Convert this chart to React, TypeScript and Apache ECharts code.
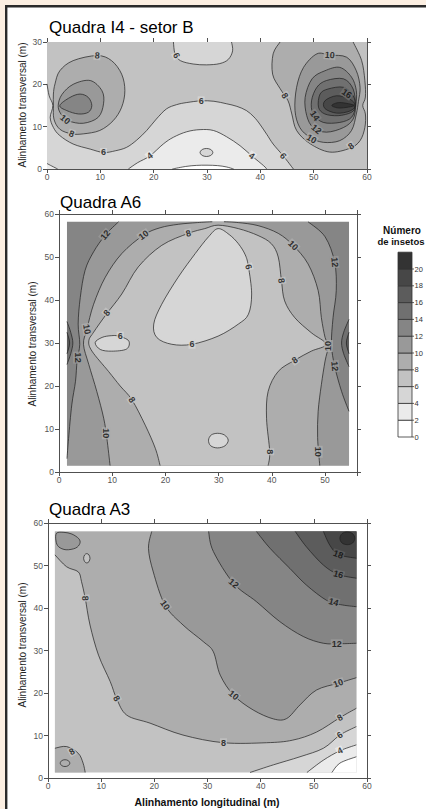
import React, { useEffect, useRef } from "react";
import * as echarts from "echarts";

const FONT = "'Liberation Sans', Arial, Helvetica, sans-serif";

// ---- legend levels and gray bands ----
const LEVELS = [0, 2, 4, 6, 8, 10, 12, 14, 16, 18, 20];
const BAND_COLORS = ["#ffffff", "#ebebeb", "#d6d6d6", "#c2c2c2", "#adadad", "#999999", "#858585", "#707070", "#5c5c5c", "#474747", "#333333"];

const TITLES = ["Quadra I4 - setor B", "Quadra A6", "Quadra A3"];
const Y_TITLE = "Alinhamento transversal (m)";
const X_TITLE = "Alinhamento longitudinal (m)";
const LEGEND_TITLE = ["Número", "de insetos"];

// ---- axis ranges ----
const I4_X = [0, 60];
const I4_Y = [0, 30];
const A6_X = [0, 56];
const A6_Y = [0, 60];
const A3_X = [0, 60];
const A3_Y = [0, 60];

// ================= Quadra I4 - setor B (contours, data units) =================
const I4_EXTENT = [[0, 0], [60, 0], [60, 30], [0, 30]];
const I4_C6_LOW = [[0, 20.1], [0.4, 17.3], [1.1, 15], [0.6, 12.2], [1.2, 9.8], [2.4, 7.9], [4.9, 5.9], [8.1, 4.7], [10.6, 3.9], [12.8, 4.3], [14.9, 5.1], [16.8, 6.8], [18.7, 9.1], [20.5, 11.8], [22.4, 14.2], [24.3, 15.2], [26.2, 15.7], [28.9, 16.1], [31.3, 16], [33.7, 15.4], [35.6, 14.8], [37.4, 13.8], [38.8, 12.3], [39.9, 10.6], [41.2, 8.2], [42.4, 5.9], [44.3, 3.1], [46.2, 0]];
const I4_C6_TOP = [[23.7, 30], [24, 27.2], [25, 25.6], [27.4, 24.8], [29.9, 24.6], [32.4, 24.9], [34, 25.9], [34.8, 27.9], [34.6, 30]];
const I4_C4 = [[15.25, 0], [17, 1.5], [19.3, 3.1], [21.8, 5.9], [23.7, 7.5], [26.2, 8.8], [28.7, 9.3], [31.2, 9.1], [33.7, 7.6], [36.2, 5.5], [38.4, 3.1], [40.6, 0.8], [41.2, 0]];
const I4_C4_CORNER = [[0, 1.3], [0.9, 0.7], [2, 0]];
const I4_C2 = [[23.5, 0], [26, 0.6], [28, 0.85], [30, 0.9], [32, 0.8], [33.6, 0.5], [35, 0]];
const I4_E4 = [[28.7, 3.9], [29.1, 4.6], [29.9, 4.85], [30.7, 4.6], [31.1, 3.9], [30.7, 3.2], [29.9, 2.95], [29.1, 3.2]];
const I4_L8 = [[1.5, 20.1], [2.4, 23.2], [4.9, 25.6], [9.4, 26.8], [12.1, 25.6], [14, 22.4], [14.6, 18.5], [14, 14.6], [12.4, 11.4], [9.9, 9.1], [6.8, 8.3], [4.6, 8.3], [2.4, 9.4], [1.3, 11.8], [1.2, 15], [1.2, 17.7]];
const I4_L10 = [[2.1, 15], [2.8, 17.6], [4.9, 20], [8.1, 20.9], [10.3, 18.5], [10.6, 15.4], [9.6, 12.2], [6.8, 10.8], [4, 11.4], [2.6, 13]];
const I4_L12 = [[2.4, 15], [4.3, 16.9], [6.2, 17.7], [7.75, 16.9], [8.4, 15], [7.75, 13.4], [5.9, 13], [3.7, 13.8]];
const I4_R8 = [[43.7, 30], [42.4, 27.2], [42.3, 22.4], [43.7, 19], [45.2, 16.1], [45.9, 13], [46.8, 9.1], [49.3, 6], [53, 4], [56.8, 4.9], [58.7, 6.7], [59.6, 9.8], [59.7, 13], [59.2, 15], [59.7, 17], [59.6, 20.9], [59, 25.6], [57.4, 30]];
const I4_R10 = [[50.6, 27.2], [53, 26.9], [56.2, 26.4], [58, 23.2], [58.7, 19.3], [58.4, 16], [58, 13], [57.1, 9.1], [54.9, 6.7], [51.8, 6.3], [49.3, 7.5], [47.4, 9.8], [46.5, 13.8], [46.8, 19.3], [48.1, 24]];
const I4_R12 = [[52.1, 23.2], [54.9, 24], [57.1, 21.7], [58, 18.5], [57.9, 15], [57.4, 11.8], [55.6, 9.8], [52.4, 8.7], [49.9, 9.8], [48.7, 12.6], [48.4, 16.9], [49.7, 21.3]];
const I4_R14 = [[52.4, 20.9], [55.6, 21.3], [57.4, 18.9], [57.8, 15], [57.1, 12.2], [54.9, 11], [51.8, 11], [49.9, 13], [49.6, 16.1], [50.6, 19.3]];
const I4_R16 = [[52.7, 18.9], [55.6, 19.3], [57.4, 17.3], [57.8, 15], [57.1, 13.4], [54.6, 12.6], [52.1, 13], [50.9, 14.6], [51.2, 17.7]];
const I4_R18 = [[52.1, 16.1], [54.3, 17.3], [56.8, 16.5], [57.8, 15], [56.8, 13.7], [54.3, 13.2], [52.1, 14.3]];
const I4_R20 = [[53.4, 15], [54.9, 15.7], [57.6, 15], [54.9, 14.4]];
const I4_LABELS = [
  [9.4, 26.8, "8", -5], [3.4, 11.7, "10", -40], [4.6, 8.3, "8", -20], [10.6, 3.9, "6", 0],
  [19.3, 3.1, "4", 35], [28.9, 16.1, "6", 0], [24.3, 26.8, "6", -65], [38.4, 3.1, "4", -35],
  [44.3, 3.1, "6", -50], [44.6, 17.3, "8", -60], [53, 26.9, "10", -5], [56.2, 17.8, "16", -35],
  [50.2, 12.6, "14", -55], [50.5, 9.4, "12", -40], [49.6, 7.1, "10", -30], [57, 5.4, "8", 35],
];

// ================= Quadra A6 =================
const A6_EXTENT = [[1.5, 1.5], [54.5, 1.5], [54.5, 58.2], [1.5, 58.2]];
const A6_L12 = [[11.2, 58.2], [8.7, 55.1], [6.5, 51.2], [4.9, 46.9], [4, 40.6], [3.6, 34.4], [3.9, 29.7], [3.4, 25.8], [3.1, 21.1], [2.4, 15.6], [1.8, 7.8], [1.5, 3.1]];
const A6_R12 = [[46.8, 58.2], [50, 54.7], [51.8, 48.8], [52.1, 42.2], [51.5, 35.9], [51.2, 29.7], [51.8, 24.6], [53.1, 18.75], [54.5, 14.1]];
const A6_L10 = [[9.6, 1.5], [9, 7.8], [8.4, 12.5], [7.1, 18.75], [5.6, 25], [4.6, 29.7], [5.25, 33.2], [6.5, 39], [8.7, 45.3], [11.8, 50.8], [15.9, 55.1], [19, 56.8], [22.4, 57.6], [26, 58], [28.8, 58.2]];
const A6_R10 = [[31, 58.2], [33.7, 58], [37.4, 57.3], [41.2, 55.5], [44, 52.7], [46.8, 48.4], [48.7, 42.2], [49.3, 35.9], [50, 31.3], [50.6, 29.3], [50, 25.8], [49.3, 20.3], [48.7, 14.1], [48.6, 8], [49, 1.5]];
const A6_L8 = [[19, 1.5], [18.1, 5.5], [16.2, 10.9], [13.7, 16.8], [11.5, 20], [9.3, 23.4], [6.2, 28.1], [5.6, 30.5], [6.5, 32.5], [8.9, 36.7], [11.8, 41.4], [14.9, 47.7], [19.3, 52.7], [24.3, 55.5], [27.4, 56.6], [29.9, 57.4], [33.7, 56.6], [37.4, 55], [39.9, 53.1], [41.2, 50], [41.8, 44.5], [42.4, 39.8], [44.3, 35.9], [47.4, 32.4], [50.2, 29.7], [47.4, 28.1], [44.3, 26], [41.2, 23.4], [39.3, 18.75], [39, 12.5], [39.6, 4.7], [39.3, 1.5]];
const A6_E6_BIG = [[29.9, 56.6], [32, 55.2], [33.7, 53.1], [35, 50.5], [35.6, 47.7], [36.2, 41.4], [35.6, 36.7], [33.7, 34.4], [29.9, 31.6], [25, 29.7], [21.2, 29.7], [18.4, 31.25], [17.8, 34.4], [19.3, 39], [22.4, 45.3], [25.6, 50.8], [28.1, 54.7]];
const A6_E6_LEFT = [[6.8, 30.1], [8.1, 31.3], [9.8, 31.7], [11.2, 31.6], [13.1, 30.5], [12.7, 28.6], [9.9, 28.1], [7.75, 28.5]];
const A6_E6_BOT = [[28.1, 7.4], [28.6, 8.6], [29.8, 9], [31.1, 8.6], [31.8, 7.4], [31.2, 6.1], [29.8, 5.6], [28.5, 6.1]];
const A6_LB14 = [[1.5, 35], [2.2, 32.5], [2.6, 30], [2.2, 27.5], [1.5, 25]];
const A6_LB16 = [[1.5, 32.5], [2, 30], [1.5, 27.5]];
const A6_RB14 = [[54.5, 35.5], [53.5, 32.5], [53.1, 30], [53.5, 27.5], [54.5, 24.5]];
const A6_RB16 = [[54.5, 32.5], [54, 30], [54.5, 27.5]];
const A6_LABELS = [
  [8.7, 55.1, "12", 50], [15.9, 55.1, "10", 35], [24.3, 55.5, "8", 15], [35.6, 47.7, "6", -75],
  [44, 52.7, "10", -45], [41.8, 44.5, "8", -80], [51.8, 48.8, "12", -85], [9, 37, "8", 50],
  [5.25, 33.2, "10", -80], [3.5, 26.6, "12", -90], [11.5, 31.6, "6", 0], [25, 29.7, "6", 0],
  [50.6, 29.3, "10", 90], [51.8, 24.6, "12", -85], [44.3, 26, "8", 35], [13.7, 16.8, "8", -55],
  [8.9, 9, "10", -90], [39.6, 4.7, "8", -90], [48.7, 4.7, "10", -90],
];

// ================= Quadra A3 =================
const A3_EXTENT = [[1.3, 1.3], [58, 1.3], [58, 58], [1.3, 58]];
const A3_C8 = [[1.3, 52.5], [3.5, 49.7], [5.7, 48.5], [6.3, 46.2], [7, 42.3], [7.9, 36], [9.5, 28.9], [11.7, 22.7], [12.9, 18.7], [14.8, 14.8], [19.2, 12.9], [25.4, 10.1], [33, 8.3], [41.1, 8.3], [46, 8.9], [50.5, 10.8], [54.9, 14.2], [58, 16.4]];
const A3_C10 = [[19.5, 58], [18.9, 54], [19.8, 48.5], [22, 40.7], [25.4, 36], [29.2, 32.1], [31.1, 29.7], [32.4, 24.2], [34.9, 19.5], [38.6, 16], [42.4, 13.9], [44.9, 14], [47.4, 17.2], [50.5, 20.7], [54.6, 22.3], [58, 23.6]];
const A3_C12 = [[30.2, 58], [31.1, 53.3], [34.9, 45.8], [39.2, 41.5], [43.6, 36.8], [48, 33.3], [51.8, 31.7], [55, 31.6], [58, 31.7]];
const A3_C14 = [[39.2, 58], [41.8, 54], [45.5, 49.3], [48.6, 45.4], [52.4, 41.8], [55, 40.8], [58, 40.3]];
const A3_C16 = [[46.5, 58], [48.6, 54.4], [51.8, 50.1], [54.6, 47.9], [58, 47]];
const A3_C18 = [[51.8, 58], [53, 54.8], [54.6, 52.6], [58, 51.7]];
const A3_E20 = [[54.9, 56.4], [55.3, 57.5], [56.3, 57.9], [57.3, 57.5], [57.7, 56.4], [57.3, 55.3], [56.3, 54.9], [55.3, 55.3]];
const A3_TL = [[1.6, 57.6], [3, 57.8], [4.5, 57.4], [5.8, 56.3], [6, 55.2], [5.2, 54.1], [3.4, 53.7], [2, 54.4], [1.5, 55.8]];
const A3_TL_ELL = [[6.7, 51.7], [6.9, 52.5], [7.3, 52.8], [7.7, 52.5], [7.9, 51.7], [7.7, 50.9], [7.3, 50.6], [6.9, 50.9]];
const A3_BL = [[1.3, 7], [3.5, 7.4], [5.7, 5.8], [6.6, 3.5], [7, 1.3]];
const A3_BL_CIRC = [[2.3, 3.5], [2.6, 4.1], [3.2, 4.3], [3.8, 4.1], [4.1, 3.5], [3.8, 2.9], [3.2, 2.7], [2.6, 2.9]];
const A3_C6 = [[38, 1.3], [42.4, 3.1], [47.4, 5], [51.8, 7], [54.9, 10.1], [58, 12.1]];
const A3_C4 = [[48.7, 1.3], [51.8, 4.2], [54.9, 6.4], [58, 7.8]];
const A3_C2 = [[53.4, 1.3], [54.9, 3.5], [58, 5]];
const A3_LABELS = [
  [7, 42.3, "8", -85], [22, 40.7, "10", -55], [34.9, 45.8, "12", -40], [54.6, 52.6, "18", -20],
  [54.6, 47.9, "16", -15], [53.7, 41.4, "14", -15], [54.3, 31.6, "12", 0], [54.6, 22.3, "10", 20],
  [34.9, 19.5, "10", -40], [12.9, 18.7, "8", -60], [33, 8.3, "8", 0], [54.9, 14.2, "8", 30],
  [54.9, 10.1, "6", 35], [54.9, 6.4, "4", 25], [4.5, 6.2, "8", 30],
];

type Part = { s?: number[][]; l?: number[][] };
type Fill = { parts?: Part[]; loop?: number[][]; band: number };

const rev = (a: number[][]) => [...a].reverse();

const I4_FILLS: Fill[] = [
  { parts: [{ l: I4_EXTENT }], band: 3 },
  { parts: [{ s: I4_C6_LOW }, { l: [[0, 0]] }], band: 2 },
  { parts: [{ s: I4_C6_TOP }], band: 2 },
  { parts: [{ s: I4_C4 }], band: 1 },
  { parts: [{ s: I4_C4_CORNER }, { l: [[0, 0]] }], band: 1 },
  { parts: [{ s: I4_C2 }], band: 0 },
  { loop: I4_E4, band: 2 },
  { loop: I4_L8, band: 4 },
  { loop: I4_L10, band: 5 },
  { loop: I4_L12, band: 6 },
  { parts: [{ s: I4_R8 }], band: 4 },
  { loop: I4_R10, band: 5 },
  { loop: I4_R12, band: 6 },
  { loop: I4_R14, band: 7 },
  { loop: I4_R16, band: 8 },
  { loop: I4_R18, band: 9 },
  { loop: I4_R20, band: 10 },
];

const A6_FILLS: Fill[] = [
  { parts: [{ l: A6_EXTENT }], band: 6 },
  { parts: [{ s: A6_L12 }, { l: [[1.5, 1.5], [54.5, 1.5]] }, { s: rev(A6_R12) }], band: 5 },
  { parts: [{ s: A6_LB14 }], band: 7 },
  { parts: [{ s: A6_LB16 }], band: 8 },
  { parts: [{ s: A6_RB14 }], band: 7 },
  { parts: [{ s: A6_RB16 }], band: 8 },
  { parts: [{ s: A6_L10 }, { s: A6_R10 }], band: 4 },
  { parts: [{ s: A6_L8 }], band: 3 },
  { loop: A6_E6_BIG, band: 2 },
  { loop: A6_E6_LEFT, band: 2 },
  { loop: A6_E6_BOT, band: 2 },
];

const A3_FILLS: Fill[] = [
  { parts: [{ l: A3_EXTENT }], band: 3 },
  { parts: [{ s: A3_C8 }, { l: [[58, 58], [1.3, 58]] }], band: 4 },
  { parts: [{ s: A3_C10 }, { l: [[58, 58]] }], band: 5 },
  { parts: [{ s: A3_C12 }, { l: [[58, 58]] }], band: 6 },
  { parts: [{ s: A3_C14 }, { l: [[58, 58]] }], band: 7 },
  { parts: [{ s: A3_C16 }, { l: [[58, 58]] }], band: 8 },
  { parts: [{ s: A3_C18 }, { l: [[58, 58]] }], band: 9 },
  { loop: A3_E20, band: 10 },
  { loop: A3_TL, band: 5 },
  { loop: A3_TL_ELL, band: 3 },
  { parts: [{ s: A3_BL }, { l: [[1.3, 1.3]] }], band: 4 },
  { loop: A3_BL_CIRC, band: 4 },
  { parts: [{ s: A3_C6 }, { l: [[58, 1.3]] }], band: 2 },
  { parts: [{ s: A3_C4 }, { l: [[58, 1.3]] }], band: 1 },
  { parts: [{ s: A3_C2 }, { l: [[58, 1.3]] }], band: 0 },
];

// layout (pixels)
const GRIDS = [
  { left: 47, top: 42, width: 320, height: 127 },
  { left: 59, top: 214, width: 298, height: 258 },
  { left: 48, top: 523, width: 319, height: 255 },
];

const fmt = (p: number[]) => `${p[0].toFixed(2)} ${p[1].toFixed(2)}`;

function crSeg(p: number[][], closed: boolean) {
  const n = p.length;
  const segs = closed ? n : n - 1;
  let d = "";
  for (let i = 0; i < segs; i++) {
    const p1 = p[i];
    const p2 = p[(i + 1) % n];
    const p0 = closed ? p[(i - 1 + n) % n] : p[Math.max(i - 1, 0)];
    const p3 = closed ? p[(i + 2) % n] : p[Math.min(i + 2, n - 1)];
    const c1 = [p1[0] + (p2[0] - p0[0]) / 6, p1[1] + (p2[1] - p0[1]) / 6];
    const c2 = [p2[0] - (p3[0] - p1[0]) / 6, p2[1] - (p3[1] - p1[1]) / 6];
    d += `C${fmt(c1)} ${fmt(c2)} ${fmt(p2)}`;
  }
  return d;
}

function fillPath(f: Fill, api: any) {
  const px = (pts: number[][]) => pts.map((q) => api.coord(q));
  if (f.loop) {
    const p = px(f.loop);
    return `M${fmt(p[0])}` + crSeg(p, true) + "Z";
  }
  let d = "";
  (f.parts || []).forEach((part, i) => {
    const p = px((part.s || part.l) as number[][]);
    d += (i === 0 ? "M" : "L") + fmt(p[0]);
    if (part.s) d += crSeg(p, false);
    else for (let k = 1; k < p.length; k++) d += "L" + fmt(p[k]);
  });
  return d + "Z";
}

type Line = { pts: number[][]; closed: boolean };
function linesOf(fills: Fill[]): Line[] {
  const out: Line[] = [];
  fills.forEach((f) => {
    if (f.loop) out.push({ pts: f.loop, closed: true });
    else (f.parts || []).forEach((p) => { if (p.s) out.push({ pts: p.s, closed: false }); });
  });
  return out;
}

function linePath(l: Line, api: any) {
  const p = l.pts.map((q) => api.coord(q));
  return `M${fmt(p[0])}` + crSeg(p, l.closed) + (l.closed ? "Z" : "");
}

const PLOTS = [
  { fills: I4_FILLS, labels: I4_LABELS, x: I4_X, y: I4_Y },
  { fills: A6_FILLS, labels: A6_LABELS, x: A6_X, y: A6_Y },
  { fills: A3_FILLS, labels: A3_LABELS, x: A3_X, y: A3_Y },
];

function axis(g: number, range: number[], pos: string, showLabel: boolean, isX: boolean) {
  return {
    gridIndex: g,
    type: "value",
    min: range[0],
    max: range[1],
    interval: 10,
    position: pos,
    axisLine: { show: true, onZero: false, lineStyle: { color: "#505050", width: 1 } },
    axisTick: { show: true, inside: false, length: 4, lineStyle: { color: "#505050", width: 1 } },
    axisLabel: {
      show: showLabel,
      fontSize: 8.5,
      color: "#555",
      margin: isX ? 3 : 5,
      fontFamily: FONT,
      formatter: (v: number) => (v % 10 === 0 ? String(v) : ""),
    },
    splitLine: { show: false },
  };
}

function buildOption() {
  const xAxis: any[] = [];
  const yAxis: any[] = [];
  const series: any[] = [];
  PLOTS.forEach((pl, g) => {
    xAxis.push(axis(g, pl.x, "bottom", true, true));
    xAxis.push(axis(g, pl.x, "top", false, true));
    yAxis.push(axis(g, pl.y, "left", true, false));
    yAxis.push(axis(g, pl.y, "right", false, false));
    const fills = pl.fills;
    const lines = linesOf(fills);
    series.push({
      type: "custom",
      xAxisIndex: 2 * g,
      yAxisIndex: 2 * g,
      silent: true,
      z: 1,
      data: fills.map((f) => (f.loop || ((f.parts as Part[])[0].s || (f.parts as Part[])[0].l) as number[][])[0]),
      renderItem: (params: any, api: any) => {
        const f = fills[params.dataIndex];
        return { type: "path", shape: { pathData: fillPath(f, api) }, style: { fill: BAND_COLORS[f.band], stroke: null } };
      },
    });
    series.push({
      type: "custom",
      xAxisIndex: 2 * g,
      yAxisIndex: 2 * g,
      silent: true,
      z: 2,
      data: lines.map((l) => l.pts[0]),
      renderItem: (params: any, api: any) => {
        const l = lines[params.dataIndex];
        return { type: "path", shape: { pathData: linePath(l, api) }, style: { fill: "none", stroke: "#1e1e1e", lineWidth: 0.7 } };
      },
    });
    series.push({
      type: "scatter",
      xAxisIndex: 2 * g,
      yAxisIndex: 2 * g,
      silent: true,
      z: 3,
      symbolSize: 1,
      itemStyle: { color: "rgba(0,0,0,0)" },
      label: { show: true, position: "inside", fontSize: 9, fontWeight: "bold", color: "#0d0d0d", fontFamily: FONT, padding: [0, 1] },
      data: pl.labels.map((lb: any[]) => ({
        value: [lb[0], lb[1]],
        label: {
          formatter: String(lb[2]),
          rotate: lb[3],
          backgroundColor: BAND_COLORS[Math.max(0, Number(lb[2]) / 2 - 1)],
        },
      })),
    });
  });

  const graphic: any[] = [];
  // page frame
  graphic.push({ type: "rect", shape: { x: 0, y: 0, width: 426, height: 5 }, style: { fill: "#fcefe2" } });
  graphic.push({ type: "rect", shape: { x: 0, y: 0, width: 5, height: 809 }, style: { fill: "#fcefe2" } });
  graphic.push({ type: "rect", shape: { x: 5, y: 5, width: 421, height: 2.4 }, style: { fill: "#2b2b2b" } });
  graphic.push({ type: "rect", shape: { x: 5, y: 5, width: 2.4, height: 804 }, style: { fill: "#2b2b2b" } });
  // titles
  const titlePos = [[49, 27], [60, 202], [49, 509]];
  TITLES.forEach((t, i) => {
    graphic.push({
      type: "text", x: titlePos[i][0], y: titlePos[i][1],
      style: { text: t, fontSize: 17, fill: "#000", fontFamily: FONT, align: "left", textAlign: "left", verticalAlign: "middle", textVerticalAlign: "middle" },
    });
  });
  // y titles
  const yTitlePos = [[22, 105], [32, 344], [22, 645]];
  yTitlePos.forEach((p) => {
    graphic.push({
      type: "text", x: p[0], y: p[1], rotation: Math.PI / 2,
      style: { text: Y_TITLE, fontSize: 10, fill: "#222", fontFamily: FONT, align: "center", textAlign: "center", verticalAlign: "middle", textVerticalAlign: "middle" },
    });
  });
  graphic.push({
    type: "text", x: 207, y: 802,
    style: { text: X_TITLE, fontSize: 10.5, fontWeight: "bold", fill: "#111", fontFamily: FONT, align: "center", textAlign: "center", verticalAlign: "middle", textVerticalAlign: "middle" },
  });
  // legend
  const LEG_X = 398, LEG_W = 14, LEG_BOTTOM = 437, LEG_STEP = 16.8;
  graphic.push({
    type: "text", x: 402, y: 230,
    style: { text: LEGEND_TITLE[0], fontSize: 10, fontWeight: "bold", fill: "#111", fontFamily: FONT, align: "center", textAlign: "center", verticalAlign: "middle", textVerticalAlign: "middle" },
  });
  graphic.push({
    type: "text", x: 401, y: 241,
    style: { text: LEGEND_TITLE[1], fontSize: 9.5, fontWeight: "bold", fill: "#111", fontFamily: FONT, align: "center", textAlign: "center", verticalAlign: "middle", textVerticalAlign: "middle" },
  });
  BAND_COLORS.forEach((c, i) => {
    graphic.push({
      type: "rect",
      shape: { x: LEG_X, y: LEG_BOTTOM - (i + 1) * LEG_STEP, width: LEG_W, height: LEG_STEP },
      style: { fill: c, stroke: "#333", lineWidth: 0.8 },
    });
  });
  LEVELS.forEach((v, i) => {
    const y = LEG_BOTTOM - i * LEG_STEP;
    graphic.push({ type: "line", shape: { x1: LEG_X + LEG_W, y1: y, x2: LEG_X + LEG_W + 2, y2: y }, style: { stroke: "#333", lineWidth: 0.8 } });
    graphic.push({
      type: "text", x: LEG_X + LEG_W + 2.5, y,
      style: { text: String(v), fontSize: 7.5, fill: "#333", fontFamily: FONT, align: "left", textAlign: "left", verticalAlign: "middle", textVerticalAlign: "middle" },
    });
  });

  return {
    animation: false,
    backgroundColor: "#ffffff",
    grid: GRIDS.map((g) => ({ ...g, containLabel: false })),
    xAxis,
    yAxis,
    series,
    graphic,
  };
}

export default function App() {
  const ref = useRef<HTMLDivElement>(null);
  useEffect(() => {
    if (!ref.current) return;
    const chart = echarts.init(ref.current, null, { renderer: "svg" });
    chart.setOption(buildOption() as any);
    return () => chart.dispose();
  }, []);
  return (
    <div
      ref={ref}
      style={{ position: "absolute", left: 0, top: 0, width: 426, height: 809, background: "#fff" }}
    />
  );
}
